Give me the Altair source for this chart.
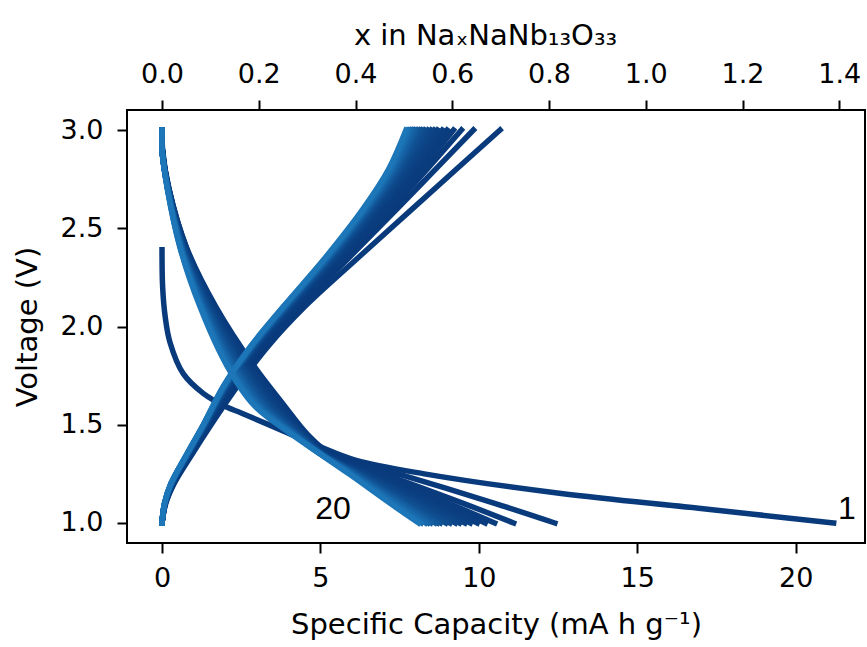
import altair as alt
import pandas as pd

# ---------------- data ----------------
# cycle 1 discharge (starts at OCV)
C1_DIS_V = [2.39, 2.2, 2.05, 1.92, 1.76, 1.66, 1.59, 1.56, 1.46, 1.39, 1.32, 1.25, 1.15, 1.075, 1.0]
C1_DIS_CAP = [0, 0.02, 0.1, 0.25, 0.67, 1.3, 2.04, 2.5, 3.95, 4.96, 6.1, 8.28, 12.6, 16.94, 21.2]

# discharge curves of cycles 2..20 on a common voltage grid
DIS_V = [3.0, 2.9, 2.7, 2.4, 2.1, 1.8, 1.6, 1.45, 1.35, 1.25, 1.1, 1.0]
DIS_CAP = {
    2: [0, 0.02, 0.22, 0.78, 1.7, 2.9, 3.85, 4.6, 5.35, 7.45, 10.5, 12.4],
    3: [0, 0.01, 0.22, 0.77, 1.67, 2.85, 3.8, 4.57, 5.25, 6.99, 9.51, 11.1],
    4: [0, 0.01, 0.21, 0.76, 1.64, 2.81, 3.74, 4.54, 5.2, 6.77, 9.05, 10.5],
    5: [0, 0.01, 0.21, 0.75, 1.62, 2.76, 3.69, 4.52, 5.17, 6.66, 8.82, 10.2],
    6: [0, 0.01, 0.21, 0.73, 1.59, 2.71, 3.64, 4.49, 5.15, 6.57, 8.62, 9.95],
    7: [0, 0.01, 0.21, 0.72, 1.56, 2.66, 3.59, 4.46, 5.13, 6.49, 8.45, 9.73],
    8: [0, 0.01, 0.2, 0.71, 1.53, 2.62, 3.53, 4.43, 5.12, 6.43, 8.32, 9.56],
    9: [0, 0.01, 0.2, 0.7, 1.51, 2.57, 3.48, 4.41, 5.1, 6.37, 8.19, 9.39],
    10: [0, 0.01, 0.2, 0.69, 1.48, 2.52, 3.43, 4.38, 5.09, 6.32, 8.09, 9.26],
    11: [0, 0, 0.19, 0.68, 1.45, 2.48, 3.38, 4.35, 5.08, 6.26, 7.96, 9.09],
    12: [0, 0, 0.19, 0.66, 1.42, 2.43, 3.32, 4.32, 5.07, 6.21, 7.86, 8.96],
    13: [0, 0, 0.19, 0.65, 1.39, 2.38, 3.27, 4.29, 5.06, 6.15, 7.73, 8.79],
    14: [0, 0, 0.19, 0.64, 1.37, 2.33, 3.22, 4.27, 5.05, 6.12, 7.66, 8.7],
    15: [0, 0, 0.18, 0.63, 1.34, 2.29, 3.16, 4.24, 5.04, 6.09, 7.6, 8.62],
    16: [0, 0, 0.18, 0.62, 1.31, 2.24, 3.11, 4.21, 5.03, 6.04, 7.5, 8.49],
    17: [0, 0, 0.18, 0.61, 1.28, 2.19, 3.06, 4.18, 5.02, 6.01, 7.43, 8.4],
    18: [0, 0, 0.18, 0.59, 1.26, 2.14, 3.01, 4.16, 5.02, 5.98, 7.37, 8.32],
    19: [0, 0, 0.17, 0.58, 1.23, 2.1, 2.95, 4.13, 5.01, 5.93, 7.27, 8.19],
    20: [0, 0, 0.17, 0.57, 1.2, 2.05, 2.9, 4.1, 5.0, 5.9, 7.2, 8.1],
}

# charge curves of cycles 1..20 on a common voltage grid
CHG_V = [1.0, 1.1, 1.2, 1.35, 1.5, 1.7, 1.9, 2.1, 2.35, 2.6, 2.8, 3.0]
CHG_CAP = {
    1: [0, 0.12, 0.38, 0.95, 1.55, 2.4, 3.35, 4.5, 6.19, 7.91, 9.29, 10.67],
    2: [0, 0.11, 0.36, 0.91, 1.5, 2.3, 3.22, 4.35, 5.9, 7.43, 8.63, 9.83],
    3: [0, 0.10, 0.35, 0.89, 1.46, 2.24, 3.14, 4.26, 5.77, 7.24, 8.36, 9.45],
    4: [0, 0.10, 0.34, 0.87, 1.44, 2.2, 3.09, 4.19, 5.68, 7.11, 8.19, 9.2],
    5: [0, 0.10, 0.33, 0.86, 1.42, 2.16, 3.06, 4.14, 5.61, 7.01, 8.05, 9.0],
    6: [0, 0.10, 0.32, 0.85, 1.41, 2.14, 3.03, 4.11, 5.56, 6.93, 7.95, 8.85],
    7: [0, 0.09, 0.32, 0.84, 1.39, 2.12, 3.0, 4.07, 5.5, 6.86, 7.85, 8.7],
    8: [0, 0.09, 0.31, 0.84, 1.38, 2.1, 2.98, 4.04, 5.47, 6.8, 7.77, 8.6],
    9: [0, 0.09, 0.31, 0.83, 1.38, 2.08, 2.96, 4.02, 5.44, 6.76, 7.71, 8.5],
    10: [0, 0.09, 0.31, 0.82, 1.37, 2.07, 2.94, 4.0, 5.4, 6.71, 7.64, 8.4],
    11: [0, 0.09, 0.3, 0.82, 1.36, 2.05, 2.92, 3.97, 5.36, 6.65, 7.56, 8.3],
    12: [0, 0.09, 0.3, 0.81, 1.35, 2.03, 2.9, 3.95, 5.33, 6.61, 7.51, 8.22],
    13: [0, 0.09, 0.3, 0.81, 1.34, 2.02, 2.89, 3.93, 5.31, 6.58, 7.46, 8.15],
    14: [0, 0.09, 0.29, 0.8, 1.34, 2.01, 2.88, 3.92, 5.29, 6.54, 7.42, 8.08],
    15: [0, 0.08, 0.29, 0.8, 1.33, 2.0, 2.86, 3.89, 5.26, 6.5, 7.36, 8.0],
    16: [0, 0.08, 0.29, 0.8, 1.32, 1.99, 2.85, 3.88, 5.24, 6.48, 7.33, 7.95],
    17: [0, 0.08, 0.29, 0.79, 1.32, 1.98, 2.83, 3.86, 5.21, 6.44, 7.27, 7.88],
    18: [0, 0.08, 0.28, 0.79, 1.31, 1.97, 2.83, 3.85, 5.2, 6.41, 7.24, 7.82],
    19: [0, 0.08, 0.28, 0.78, 1.31, 1.96, 2.81, 3.84, 5.17, 6.38, 7.19, 7.77],
    20: [0, 0.08, 0.28, 0.78, 1.3, 1.95, 2.8, 3.82, 5.15, 6.35, 7.15, 7.7],
}

LABEL_TEXT = ["20", "1"]
LABEL_CAP = [5.4, 21.62]
LABEL_V = [1.02, 1.02]

X_TICKS = [0, 5, 10, 15, 20]
Y_TICKS = [1.0, 1.5, 2.0, 2.5, 3.0]
TOP_TICKS = [0.0, 0.2, 0.4, 0.6, 0.8, 1.0, 1.2, 1.4]

# ---------------- build table ----------------
rows = []
for cyc in range(1, 21):
    if cyc == 1:
        dv, dc = C1_DIS_V, C1_DIS_CAP
    else:
        dv, dc = DIS_V, DIS_CAP[cyc]
    for i, (v, c) in enumerate(zip(dv, dc)):
        rows.append({"key": f"c{cyc:02d}a", "cycle": cyc, "idx": i, "cap": c, "V": v})
    for i, (v, c) in enumerate(zip(CHG_V, CHG_CAP[cyc])):
        rows.append({"key": f"c{cyc:02d}b", "cycle": cyc, "idx": i, "cap": c, "V": v})
df = pd.DataFrame(rows)

lab = pd.DataFrame({"t": LABEL_TEXT, "cap": LABEL_CAP, "V": LABEL_V})
top = pd.DataFrame({"xna": TOP_TICKS})

FONT = "DejaVu Sans"
XDOM = [-1.105, 22.19]
YDOM = [0.8982, 3.1018]
K = 15.27  # mA h g-1 per x

xscale = alt.Scale(domain=XDOM, nice=False, zero=False)
yscale = alt.Scale(domain=YDOM, nice=False, zero=False)

common_axis = dict(
    labelFont=FONT, labelFontSize=27, labelColor="black",
    titleFont=FONT, titleFontSize=29, titleFontWeight="normal", titleColor="black",
    tickSize=10, tickWidth=2, tickColor="black", domain=False, grid=False,
)

lines = alt.Chart(df).mark_line(
    strokeWidth=5.5, interpolate="catmull-rom", strokeCap="square", strokeJoin="round"
).encode(
    x=alt.X("cap:Q", scale=xscale,
            axis=alt.Axis(values=X_TICKS, format="d", title="Specific Capacity (mA h g⁻¹)",
                          labelPadding=12, titlePadding=19, **common_axis)),
    y=alt.Y("V:Q", scale=yscale,
            axis=alt.Axis(values=Y_TICKS, format=".1f", title="Voltage (V)",
                          labelPadding=14, titlePadding=18, **common_axis)),
    color=alt.Color("cycle:Q", scale=alt.Scale(type="pow", exponent=2.2, domain=[1, 20],
                                               range=["#093a7c", "#1c76b8"],
                                               interpolate="rgb"), legend=None),
    detail="key:N",
    order="idx:Q",
)

labels = alt.Chart(lab).mark_text(
    font="Liberation Sans", fontSize=32, color="black", align="center", baseline="alphabetic"
).encode(
    x=alt.X("cap:Q", scale=xscale),
    y=alt.Y("V:Q", scale=yscale),
    text="t:N",
)

topaxis = alt.Chart(top).mark_point(opacity=0).encode(
    x=alt.X("xna:Q", scale=alt.Scale(domain=[XDOM[0] / K, XDOM[1] / K], nice=False, zero=False),
            axis=alt.Axis(orient="top", values=TOP_TICKS, format=".1f",
                          title="x in NaₓNaNb₁₃O₃₃", labelPadding=12, titlePadding=10,
                          titleX=358, **common_axis)),
    y=alt.value(0),
)

chart = alt.layer(alt.layer(lines, labels), topaxis).resolve_scale(x="independent").properties(
    width=738, height=433,
    autosize=alt.AutoSizeParams(type="none"),
    padding={"left": 127, "top": 110, "right": 2, "bottom": 104},
    background="white",
).configure_view(stroke="black", strokeWidth=2)

chart.save("out.html", embed_options={"renderer": "svg", "actions": False})
